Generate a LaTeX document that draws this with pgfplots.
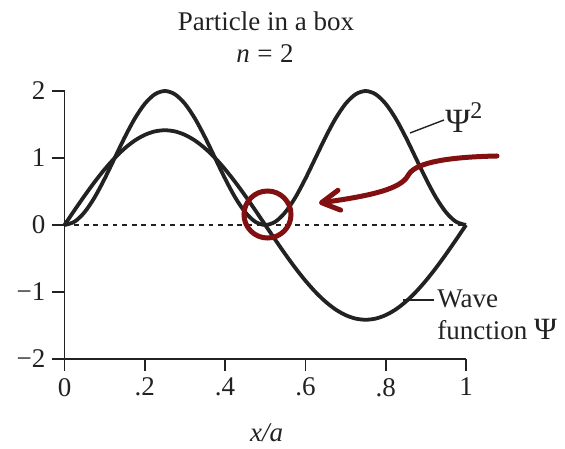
\documentclass[border=0pt]{standalone}
\usepackage{fontspec}
\setmainfont{Liberation Serif}
\usepackage{pgfplots}
\usepackage{pgfplotstable}
\pgfplotsset{compat=1.18}
\usetikzlibrary{arrows.meta}
\definecolor{ink}{HTML}{222222}
\definecolor{marker}{HTML}{821010}

% x/a, wave function psi, probability density psi^2 (n = 2)
\pgfplotstableread{
x      psi      psisq
0      0        0
0.025  0.2212   0.0489
0.05   0.4370   0.1910
0.075  0.6420   0.4122
0.1    0.8313   0.6910
0.125  1.0000   1.0000
0.15   1.1441   1.3090
0.175  1.2601   1.5878
0.2    1.3450   1.8090
0.225  1.3968   1.9511
0.25   1.4142   2.0000
0.275  1.3968   1.9511
0.3    1.3450   1.8090
0.325  1.2601   1.5878
0.35   1.1441   1.3090
0.375  1.0000   1.0000
0.4    0.8313   0.6910
0.425  0.6420   0.4122
0.45   0.4370   0.1910
0.475  0.2212   0.0489
0.5    0        0
0.525  -0.2212  0.0489
0.55   -0.4370  0.1910
0.575  -0.6420  0.4122
0.6    -0.8313  0.6910
0.625  -1.0000  1.0000
0.65   -1.1441  1.3090
0.675  -1.2601  1.5878
0.7    -1.3450  1.8090
0.725  -1.3968  1.9511
0.75   -1.4142  2.0000
0.775  -1.3968  1.9511
0.8    -1.3450  1.8090
0.825  -1.2601  1.5878
0.85   -1.1441  1.3090
0.875  -1.0000  1.0000
0.9    -0.8313  0.6910
0.925  -0.6420  0.4122
0.95   -0.4370  0.1910
0.975  -0.2212  0.0489
1      0        0
}\boxdata

\begin{document}
\begin{tikzpicture}[font=\fontsize{13.5}{15}\selectfont,
  px/.style={x=0.5pt,y=-0.5pt,shift={(-64.5,-359)}}]
\begin{scope}[px]
\useasboundingbox (0,0) rectangle (565,448);
\end{scope}
\begin{axis}[
  at={(0,0)}, anchor=south west,
  scale only axis, width=200.75pt, height=134pt,
  xmin=0, xmax=1, ymin=-2, ymax=2, enlargelimits=false,
  axis lines=left,
  axis line style={-, line width=0.8pt, ink},
  tick align=outside, major tick length=6pt,
  tick style={line width=0.8pt, ink},
  xtick={0,0.2,0.4,0.6,0.8,1}, xticklabels={0,.2,.4,.6,.8,1},
  ytick={-2,-1,0,1,2}, yticklabels={−2,−1,0,1,2},
  ticklabel style={/pgf/number format/assume math mode=true, ink},
  clip=false,
]
\addplot[ink, line width=0.6pt, dash pattern=on 2.4pt off 2.4pt]
  coordinates {(0,0) (1,0)};
\addplot[ink, line width=1.9pt, smooth] table[x=x, y=psi] {\boxdata};
\addplot[ink, line width=1.9pt, smooth] table[x=x, y=psisq] {\boxdata};
\end{axis}
\begin{scope}[px]
\node[anchor=base, ink] at (266,31) {Particle in a box};
\node[anchor=base, ink] at (265,63) {\textit{n}\hspace{0.28em}=\hspace{0.28em}2};
\node[anchor=base, ink] at (266.5,441) {\textit{x/a}};
\draw[ink, line width=0.7pt] (410,133) -- (444,120);
\node[anchor=base west, inner sep=0pt, ink] at (445,133)
  {{\fontsize{17}{17}\selectfont Ψ}\raisebox{0.55em}{\fontsize{12}{12}\selectfont 2}};
\draw[ink, line width=0.7pt] (403,300) -- (434,300);
\node[anchor=base west, inner sep=0pt, ink] at (437,308) {Wave};
\node[anchor=base west, inner sep=0pt, ink] at (437,340)
  {function {\fontsize{15.5}{15.5}\selectfont Ψ}};
\draw[marker, line width=2.5pt] (267.5,214.5) circle[radius=23.5];
\draw[marker, line width=2.5pt, line cap=round,
  -{Straight Barb[length=9pt,width=10pt,round]}]
  (497,156) .. controls (450,157) and (417,162) .. (409,174)
  .. controls (403,186) and (385,194) .. (319,203);
\end{scope}
\end{tikzpicture}
\end{document}
